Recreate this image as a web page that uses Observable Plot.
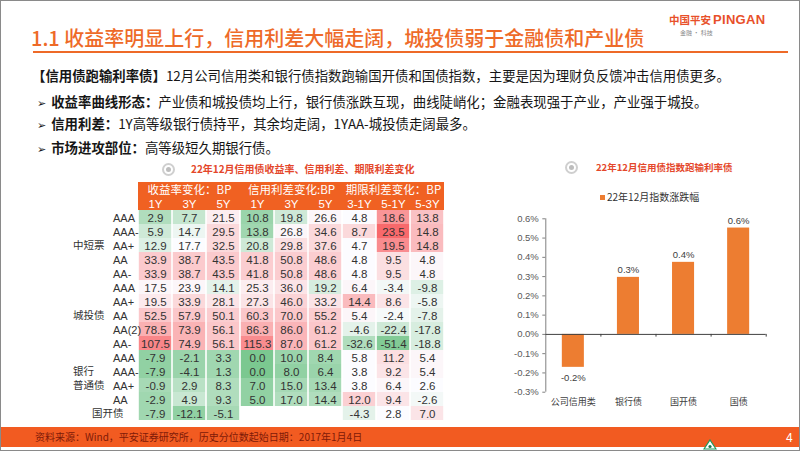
<!DOCTYPE html>
<html><head><meta charset="utf-8">
<script src="https://cdn.jsdelivr.net/npm/d3@7"></script>
<script src="https://cdn.jsdelivr.net/npm/@observablehq/plot@0.6"></script>
<style>
html,body{margin:0;padding:0;background:#fff;}
#page{position:relative;width:802px;height:451px;overflow:hidden;background:#fff;font-family:"Noto Sans CJK SC","Noto Sans",sans-serif;}
.abs{position:absolute;white-space:nowrap;}
.frame{position:absolute;left:0;top:0;width:800px;height:451px;box-sizing:border-box;border:1px solid #8a8a8a;pointer-events:none;}
.title{left:31px;top:25px;font-size:20px;line-height:26px;color:#EE6A28;font-weight:500;}
.rule{left:33px;top:51px;width:755px;height:2px;background:#EE6A28;}
.logo1{left:669px;top:12px;font-size:10.5px;line-height:16px;font-weight:700;color:#E8502A;}
.logo2{left:713px;top:11px;font-size:13px;line-height:18px;font-weight:600;color:#E8502A;font-family:"Liberation Sans",sans-serif;letter-spacing:0.3px;}
.logo3{left:680px;top:29px;font-size:6px;line-height:8px;color:#888;}
.line{font-size:13.4px;line-height:18px;color:#161616;}
.line b{font-weight:700;}
.arrow{font-family:"DejaVu Sans",sans-serif;font-size:11px;margin-right:5px;}
.ctitle{font-size:10px;line-height:14px;font-weight:700;color:#E4472B;}
.dot{position:absolute;width:9px;height:9px;border-radius:50%;border:2px solid #cfcfcf;background:#fff;}
.dot::after{content:"";position:absolute;left:2px;top:2px;width:5px;height:5px;border-radius:50%;background:#bdbdbd;}
.footer{left:1px;top:427px;width:799px;height:20px;background:#F25B21;}
.src{left:35px;top:430px;font-size:10px;line-height:14px;color:#7E1A08;}
.pnum{left:786px;top:431px;font-size:12px;line-height:14px;color:#fff;font-family:"Liberation Sans",sans-serif;}
.legend{left:600px;top:189px;font-size:10px;line-height:16px;color:#333;}
.legend i{display:inline-block;width:5px;height:5px;background:#ED7D31;margin-right:2px;vertical-align:1px;}
</style></head><body>
<div id="page">
  <div class="abs title">1.1 收益率明显上行，信用利差大幅走阔，城投债弱于金融债和产业债</div>
  <div class="abs rule"></div>
  <div class="abs logo1">中国平安</div>
  <div class="abs logo2">PINGAN</div>
  <div class="abs logo3">金融 · 科技</div>

  <div class="abs line" style="left:32px;top:66px;"><b>【信用债跑输利率债】</b>12月公司信用类和银行债指数跑输国开债和国债指数，主要是因为理财负反馈冲击信用债更多。</div>
  <div class="abs line" style="left:37px;top:92px;"><span class="arrow">➢</span><b>收益率曲线形态：</b>产业债和城投债均上行，银行债涨跌互现，曲线陡峭化；金融表现强于产业，产业强于城投。</div>
  <div class="abs line" style="left:37px;top:114px;"><span class="arrow">➢</span><b>信用利差：</b>1Y高等级银行债持平，其余均走阔，1YAA-城投债走阔最多。</div>
  <div class="abs line" style="left:37px;top:138px;"><span class="arrow">➢</span><b>市场进攻部位：</b>高等级短久期银行债。</div>

  <div class="dot" style="left:162px;top:163px;"></div>
  <div class="abs ctitle" style="left:191px;top:162px;">22年12月信用债收益率、信用利差、期限利差变化</div>
  <div class="dot" style="left:565px;top:161px;"></div>
  <div class="abs ctitle" style="left:596px;top:160px;font-size:9.5px;">22年12月信用债指数跑输利率债</div>
  <div class="abs legend"><i></i>22年12月指数涨跌幅</div>

  <div id="table" class="abs" style="left:0;top:177px;"></div>
  <div id="bars" class="abs" style="left:480px;top:205px;"></div>

  <div class="abs footer"></div>
  <div class="abs src">资料来源：Wind，平安证券研究所，历史分位数起始日期：2017年1月4日</div>
  <div class="abs pnum">4</div>
  <svg class="abs" style="left:703px;top:439px;" width="14" height="11"><polygon points="7,1 13,10 1,10" fill="#fff" stroke="#1c9a5c" stroke-width="1.2"/><circle cx="7" cy="7.5" r="1.6" fill="#1c7a4c"/></svg>
  <div class="frame"></div>
</div>
<script>
// ---------- table data ----------
const ratings = ["AAA","AAA-","AA+","AA","AA-","AAA","AA+","AA","AA(2)","AA-","AAA","AAA-","AA+","AA",""];
const groupLabels = ["中短票","城投债","银行","普通债"];
const groupRows = [2, 7, 11, 12];
const cdbLabel = "国开债";
const colLabels = ["1Y","3Y","5Y","1Y","3Y","5Y","3-1Y","5-1Y","5-3Y"];
const headerLabels = ["收益率变化：BP","信用利差变化:BP","期限利差变化：BP"];

const yield1Y  = [2.9,5.9,12.9,33.9,33.9,17.5,19.5,52.5,78.5,107.5,-7.9,-7.9,-0.9,-2.9,-7.9];
const yield3Y  = [7.7,14.7,17.7,38.7,38.7,23.9,33.9,57.9,73.9,74.9,-2.1,-4.1,2.9,4.9,-12.1];
const yield5Y  = [21.5,29.5,32.5,43.5,43.5,14.1,28.1,50.1,56.1,56.1,3.3,1.3,8.3,9.3,-5.1];
const spread1Y = [10.8,13.8,20.8,41.8,41.8,25.3,27.3,60.3,86.3,115.3,0.0,0.0,7.0,5.0,null];
const spread3Y = [19.8,26.8,29.8,50.8,50.8,36.0,46.0,70.0,86.0,87.0,10.0,8.0,15.0,17.0,null];
const spread5Y = [26.6,34.6,37.6,48.6,48.6,19.2,33.2,55.2,61.2,61.2,8.4,6.4,13.4,14.4,null];
const term31   = [4.8,8.7,4.7,4.8,4.8,6.4,14.4,5.4,-4.6,-32.6,5.8,3.8,3.8,12.0,-4.3];
const term51   = [18.6,23.5,19.5,9.5,9.5,-3.4,8.6,-2.4,-22.4,-51.4,11.2,9.2,6.4,9.4,2.8];
const term53   = [13.8,14.8,14.8,4.8,4.8,-9.8,-5.8,-7.8,-17.8,-18.8,5.4,5.4,2.6,-2.6,7.0];

// historical percentile (colour), 0 = green, 50 = white, 100 = red
const pctY1 = [25,35,40,67,67,52,56,68,76,90,15,15,22,20,20];
const pctY3 = [32,45,50,67,67,52,62,68,75,75,18,18,28,33,15];
const pctY5 = [55,62,62,67,67,42,58,66,68,68,20,20,25,25,22];
const pctS1 = [18,20,35,66,66,55,58,68,76,88,8,8,15,15,null];
const pctS3 = [35,52,60,66,66,58,64,68,74,74,18,15,22,25,null];
const pctS5 = [52,62,62,66,66,38,58,66,68,68,20,18,22,25,null];
const pctT31 = [50,62,50,50,50,52,72,52,42,25,50,50,50,65,42];
const pctT51 = [85,100,88,60,60,47,58,48,35,10,60,58,52,58,50];
const pctT53 = [70,72,72,52,52,40,45,42,38,38,52,52,50,47,58];

// ---------- bar data ----------
const barCats = ["公司信用类","银行债","国开债","国债"];
const barVals = [-0.171, 0.296, 0.374, 0.552];
const yTicks = [-0.3,-0.2,-0.1,0.0,0.1,0.2,0.3,0.4,0.5,0.6];

// ---------- build table ----------
const colKeys = ["y1","y3","y5","s1","s3","s5","t31","t51","t53"];
const valueCols = [yield1Y,yield3Y,yield5Y,spread1Y,spread3Y,spread5Y,term31,term51,term53];
const pctCols = [pctY1,pctY3,pctY5,pctS1,pctS3,pctS5,pctT31,pctT51,pctT53];
const rowKeys = ratings.map((_, i) => "r" + i);
const cells = [];
valueCols.forEach((vals, c) => vals.forEach((v, r) => {
  if (v != null) cells.push({col: colKeys[c], row: rowKeys[r], v, pct: pctCols[c][r]});
}));
const headCells = colKeys.flatMap(c => [{col: c, row: "h1"}, {col: c, row: "h2"}]);
const colHead = colKeys.map((c, i) => ({col: c, label: colLabels[i]}));
const groupHead = headerLabels.map((l, i) => ({col: colKeys[i * 3 + 1], label: l}));
const rateRows = ratings.map((l, i) => ({row: rowKeys[i], label: l}));
const grpRows = groupLabels.map((l, i) => ({row: rowKeys[groupRows[i]], label: l}));
const fmt = v => v.toFixed(1);
const numFont = '"Liberation Sans Narrow","Arial Narrow","Liberation Sans",sans-serif';
const cjk = '"Noto Sans CJK SC",sans-serif';

const table = Plot.plot({
  width: 460, height: 247,
  marginLeft: 136, marginRight: 14, marginTop: 0, marginBottom: 0,
  x: {domain: colKeys, axis: null, padding: 0},
  y: {domain: ["h1", "h2", ...rowKeys], axis: null, padding: 0},
  color: {type: "linear", domain: [0, 50, 100], range: ["#63BE7B", "#FCFCFF", "#F8696B"]},
  style: {fontFamily: '"Liberation Sans","Noto Sans CJK SC",sans-serif', background: "transparent"},
  marks: [
    Plot.cell(headCells, {x: "col", y: "row", fill: "#F06122"}),
    Plot.cell(cells, {x: "col", y: "row", fill: "pct", insetLeft: 0.8, insetRight: 0.8}),
    Plot.text(cells, {x: "col", y: "row", text: d => fmt(d.v), fill: "#333", fontSize: 11.5, fontFamily: numFont, dy: 0.5}),
    Plot.text(colHead, {x: "col", y: () => "h2", text: "label", fill: "#fff", fontSize: 11.5, dy: 0.5}),
    Plot.text(groupHead, {x: "col", y: () => "h1", text: "label", fill: "#fff", fontSize: 11.5, fontFamily: cjk, dy: 0.5}),
    Plot.text(rateRows, {y: "row", frameAnchor: "left", dx: -23.5, text: "label", fill: "#333", fontSize: 11, dy: 0.5}),
    Plot.text(grpRows, {y: "row", frameAnchor: "left", dx: -63.5, text: "label", fill: "#333", fontSize: 10.5, fontFamily: cjk}),
    Plot.text([{row: rowKeys[14], label: cdbLabel}], {y: "row", frameAnchor: "left", dx: -44.5, text: "label", fill: "#333", fontSize: 10.5, fontFamily: cjk})
  ]
});
document.getElementById("table").append(table);

// ---------- build bar chart ----------
const bars = barCats.map((c, i) => ({cat: c, v: barVals[i], i}));
const pct = v => v.toFixed(1) + "%";
const barChart = Plot.plot({
  width: 322, height: 215,
  marginLeft: 65.3, marginRight: 36.3, marginTop: 13.3, marginBottom: 28.3,
  x: {domain: [0, 4], axis: null},
  y: {domain: [-0.3, 0.6], axis: null},
  style: {fontFamily: '"Liberation Sans","Noto Sans CJK SC",sans-serif', background: "transparent"},
  marks: [
    Plot.axisY(yTicks, {anchor: "left", tickSize: 3, tickPadding: 4, tickFormat: pct, fontSize: 9.5, fill: "#595959", stroke: "#808080", label: null}),
    Plot.ruleX([0], {y1: -0.3, y2: 0.6, stroke: "#808080"}),
    Plot.rectY(bars, {x1: d => d.i + 0.3, x2: d => d.i + 0.7, y: "v", fill: "#ED7D31"}),
    Plot.ruleY([0], {x1: 0, x2: 4, stroke: "#404040"}),
    Plot.ruleX([1, 2, 3, 4], {y1: 0, y2: -0.014, stroke: "#404040"}),
    Plot.text(bars.filter(d => d.v >= 0), {x: d => d.i + 0.5, y: "v", text: d => pct(d.v), dy: -7, fontSize: 9.5, fill: "#404040"}),
    Plot.text(bars.filter(d => d.v < 0), {x: d => d.i + 0.5, y: "v", text: d => pct(d.v), dy: 11, fontSize: 9.5, fill: "#404040"}),
    Plot.text(bars, {x: d => d.i + 0.5, frameAnchor: "bottom", dy: 12.6, text: "cat", fontSize: 9, fill: "#404040", fontFamily: cjk})
  ]
});
document.getElementById("bars").append(barChart);
</script>
</body></html>
